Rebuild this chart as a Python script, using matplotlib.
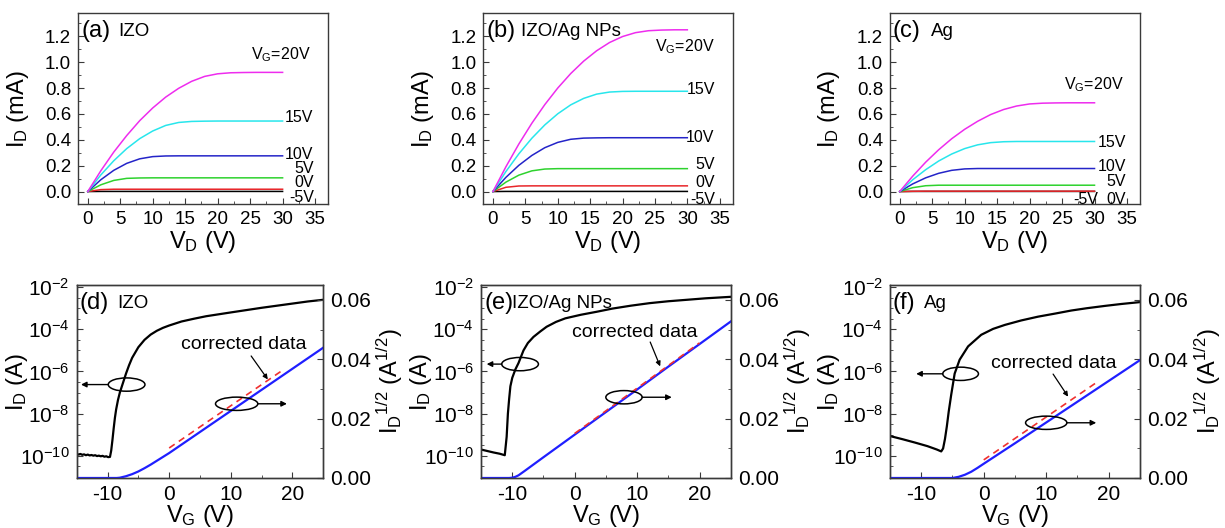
import matplotlib
matplotlib.use("Agg")
import matplotlib.pyplot as plt
import numpy as np
from matplotlib.patches import Ellipse
from matplotlib.ticker import MultipleLocator, FixedLocator, FuncFormatter, NullFormatter

plt.rcParams["font.family"] = ["Liberation Sans", "DejaVu Sans"]
plt.rcParams["mathtext.fontset"] = "custom"
plt.rcParams["mathtext.rm"] = "Liberation Sans"
plt.rcParams["mathtext.it"] = "Liberation Sans:italic"
plt.rcParams["mathtext.default"] = "regular"
plt.rcParams["axes.unicode_minus"] = False

# ---- output curves (I_D in mA vs V_D in V) ----
vd = [0, 2, 4, 6, 8, 10, 12, 14, 16, 18, 20, 22, 24, 26, 28, 30]

izo_vg20 = [0, 0.160, 0.305, 0.433, 0.548, 0.646, 0.730, 0.798, 0.852, 0.890, 0.910, 0.918, 0.920, 0.921, 0.921, 0.921]
izo_vg15 = [0, 0.128, 0.238, 0.332, 0.409, 0.468, 0.511, 0.534, 0.542, 0.544, 0.545, 0.545, 0.545, 0.545, 0.545, 0.545]
izo_vg10 = [0, 0.091, 0.164, 0.218, 0.253, 0.270, 0.275, 0.276, 0.276, 0.276, 0.276, 0.276, 0.276, 0.276, 0.276, 0.276]
izo_vg5 = [0, 0.052, 0.086, 0.102, 0.105, 0.106, 0.106, 0.106, 0.106, 0.106, 0.106, 0.106, 0.106, 0.106, 0.106, 0.106]
izo_vg0 = [0, 0.015, 0.018, 0.018, 0.018, 0.018, 0.018, 0.018, 0.018, 0.018, 0.018, 0.018, 0.018, 0.018, 0.018, 0.018]
izo_vgm5 = [0, 0.001, 0.001, 0.001, 0.001, 0.001, 0.001, 0.001, 0.001, 0.001, 0.001, 0.001, 0.001, 0.001, 0.001, 0.001]

np_vg20 = [0, 0.192, 0.368, 0.528, 0.672, 0.800, 0.912, 1.008, 1.088, 1.152, 1.198, 1.228, 1.243, 1.248, 1.250, 1.250]
np_vg15 = [0, 0.155, 0.292, 0.412, 0.515, 0.601, 0.670, 0.720, 0.753, 0.769, 0.774, 0.775, 0.775, 0.775, 0.775, 0.775]
np_vg10 = [0, 0.110, 0.203, 0.279, 0.339, 0.380, 0.404, 0.413, 0.415, 0.416, 0.416, 0.416, 0.416, 0.416, 0.416, 0.416]
np_vg5 = [0, 0.073, 0.127, 0.160, 0.174, 0.177, 0.177, 0.177, 0.177, 0.177, 0.177, 0.177, 0.177, 0.177, 0.177, 0.177]
np_vg0 = [0, 0.033, 0.043, 0.044, 0.044, 0.044, 0.044, 0.044, 0.044, 0.044, 0.044, 0.044, 0.044, 0.044, 0.044, 0.044]
np_vgm5 = [0, 0.001, 0.001, 0.001, 0.001, 0.001, 0.001, 0.001, 0.001, 0.001, 0.001, 0.001, 0.001, 0.001, 0.001, 0.001]

ag_vg20 = [0, 0.119, 0.227, 0.323, 0.408, 0.481, 0.543, 0.595, 0.634, 0.661, 0.677, 0.683, 0.685, 0.686, 0.686, 0.686]
ag_vg15 = [0, 0.091, 0.169, 0.236, 0.290, 0.332, 0.361, 0.378, 0.385, 0.387, 0.387, 0.387, 0.387, 0.387, 0.387, 0.387]
ag_vg10 = [0, 0.059, 0.106, 0.141, 0.164, 0.175, 0.178, 0.178, 0.178, 0.178, 0.178, 0.178, 0.178, 0.178, 0.178, 0.178]
ag_vg5 = [0, 0.030, 0.045, 0.049, 0.049, 0.049, 0.049, 0.049, 0.049, 0.049, 0.049, 0.049, 0.049, 0.049, 0.049, 0.049]
ag_vg0 = [0, 0.002, 0.003, 0.003, 0.003, 0.003, 0.003, 0.003, 0.003, 0.003, 0.003, 0.003, 0.003, 0.003, 0.003, 0.003]
ag_vgm5 = [0, 0.001, 0.001, 0.001, 0.001, 0.001, 0.001, 0.001, 0.001, 0.001, 0.001, 0.001, 0.001, 0.001, 0.001, 0.001]

vg_labels = ["-5V", "0V", "5V", "10V", "15V", r"V$_G$=20V"]
curve_colors = ["black", "#e8262a", "#2ed22e", "#2424c8", "#28e6ec", "#ee2cee"]

# ---- transfer curves: log10(I_D / A) and sqrt(I_D) in A^1/2 vs V_G ----
izo_vg = [-15.0, -14.7, -14.4, -14.1, -13.8, -13.5, -13.2, -12.9, -12.6, -12.3, -12.0, -11.7,
          -11.4, -11.1, -10.8, -10.5, -10.2, -9.9, -9.6, -9.4, -9.2, -9.0, -8.8, -8.6, -8.3,
          -8.0, -7.5, -7.0, -6.5, -6.0, -5.0, -4.0, -3.0, -2.0, -1.0, 0, 2, 4, 6, 8, 10,
          12.5, 15, 17.5, 20, 22.5, 25]
izo_logid = [-9.90, -9.94, -9.91, -9.95, -9.93, -9.97, -9.94, -9.98, -9.96, -9.99, -9.97, -10.01,
             -9.99, -10.02, -10.00, -10.04, -10.02, -10.06, -10.05, -9.75, -9.25, -8.7, -8.2, -7.8, -7.35,
             -7.0, -6.55, -6.1, -5.7, -5.35, -4.85, -4.5, -4.25, -4.07, -3.93, -3.82, -3.63, -3.5, -3.38,
             -3.29, -3.2, -3.09, -2.98, -2.88, -2.78, -2.68, -2.6]
izo_sq_vg = [-15, -8.5, -8, -7, -6, -5, -4, -3, -2, -1, 0, 5, 10, 15, 20, 25]
izo_sq = [0, 0, 0.0001, 0.0006, 0.0013, 0.0022, 0.0033, 0.0045, 0.0058, 0.0071, 0.0084,
          0.0155, 0.0226, 0.0297, 0.0368, 0.0439]
izo_fit_vg = [0, 18.4]
izo_fit = [0.0101, 0.0363]

np_vg = [-15.0, -14.0, -13.0, -12.0, -11.2, -10.9, -10.7, -10.5, -10.3, -10.0, -9.5, -9.0,
         -8.2, -7.5, -6.6, -5.5, -4.5, -3.0, -1.5, 1.0, 3.5, 6.0, 9.0, 12.0, 15.0, 18.0, 21.0, 25.0]
np_logid = [-9.7, -9.77, -9.84, -9.9, -9.97, -9.1, -8.0, -7.3, -6.7, -6.3, -5.9, -5.6,
            -5.0, -4.65, -4.36, -4.1, -3.88, -3.65, -3.48, -3.31, -3.17, -3.02, -2.88, -2.76,
            -2.67, -2.6, -2.53, -2.46]
np_sq_vg = [-15, -10.5, -10, -9.5, -9, -8, -5, 0, 5, 10, 15, 20, 25]
np_sq = [0, 0, 0.0001, 0.0004, 0.0009, 0.0024, 0.0070, 0.0146, 0.0222, 0.0298, 0.0375, 0.0451, 0.0527]
np_fit_vg = [0, 20]
np_fit = [0.0150, 0.0455]

ag_vg = [-15.0, -13.0, -11.0, -9.0, -7.5, -6.8, -6.5, -6.2, -5.9, -5.6, -5.2, -4.65, -3.85,
         -2.5, -0.4, 1.5, 3.4, 6.0, 8.7, 11.5, 14.0, 16.5, 19.4, 22.0, 25.0]
ag_logid = [-9.06, -9.21, -9.37, -9.54, -9.7, -9.79, -9.65, -9.2, -8.6, -7.9, -7.1, -6.1, -5.44,
            -4.81, -4.26, -3.98, -3.79, -3.58, -3.4, -3.25, -3.11, -3.0, -2.89, -2.8, -2.71]
ag_sq_vg = [-15, -5, -4, -3, -2, -1, 0, 5, 10, 15, 20, 25]
ag_sq = [0, 0, 0.0004, 0.0011, 0.0021, 0.0034, 0.0048, 0.0117, 0.0187, 0.0257, 0.0327, 0.0397]
ag_fit_vg = [0, 18]
ag_fit = [0.0061, 0.0321]

FIG_W, FIG_H = 1225, 528
fig = plt.figure(figsize=(FIG_W / 100, FIG_H / 100), dpi=100)

SPINE = "#3a3a3a"


def style_axes(ax):
    for s in ax.spines.values():
        s.set_color(SPINE)
        s.set_linewidth(1.0)


def output_panel(rect, curves, tag, name, name_x, label_pos):
    ax = fig.add_axes(rect)
    style_axes(ax)
    for y, c in zip(curves, curve_colors):
        ax.plot(vd, y, color=c, lw=1.1)
    ax.set_xlim(-1.5, 37)
    ax.set_ylim(-0.1, 1.38)
    ax.xaxis.set_major_locator(MultipleLocator(5))
    ax.xaxis.set_minor_locator(MultipleLocator(2.5))
    ax.yaxis.set_major_locator(FixedLocator([0, 0.2, 0.4, 0.6, 0.8, 1.0, 1.2]))
    ax.yaxis.set_minor_locator(MultipleLocator(0.1))
    ax.yaxis.set_major_formatter(FuncFormatter(lambda v, p: "%.1f" % v))
    ax.tick_params(which="both", direction="in", top=False, right=False, color=SPINE)
    ax.tick_params(which="major", length=4.5, labelsize=13.5, pad=5)
    ax.tick_params(which="minor", length=2.5)
    ax.set_xlabel(r"V$_D$ (V)", fontsize=17)
    ax.set_ylabel(r"I$_D$ (mA)", fontsize=17)
    ax.xaxis.set_label_coords(0.5, -0.13)
    ax.yaxis.set_label_coords(-0.19, 0.5)
    for lab, (x, y) in zip(vg_labels, label_pos):
        ax.text(x, y, lab, fontsize=11.5, ha="left", va="center")
    ax.text(0.012, 0.905, tag, transform=ax.transAxes, fontsize=17, va="center")
    ax.text(name_x, 0.905, name, transform=ax.transAxes, fontsize=13.5, va="center")
    return ax


def oval(ax, x, y, w_px, h_px):
    fx, fy = ax.transAxes.inverted().transform(ax.transData.transform((x, y)))
    bb = ax.get_window_extent()
    ax.add_patch(Ellipse((fx, fy), w_px / bb.width, h_px / bb.height, transform=ax.transAxes,
                         fill=False, lw=1.1, color="black", zorder=5))


def arrow(ax, x0, x1, y):
    ax.annotate("", xy=(x1, y), xytext=(x0, y),
                arrowprops=dict(arrowstyle="-|>", lw=1.0, color="black", mutation_scale=8,
                                shrinkA=0, shrinkB=0))


def transfer_panel(rect, vg, logid, sq_vg, sq, fit_vg, fit, tag, name, name_x,
                   left_oval, right_oval, text_xy, text_arrow):
    ax = fig.add_axes(rect)
    ax2 = ax.twinx()
    style_axes(ax)
    style_axes(ax2)
    ax.plot(vg, 10 ** np.array(logid), color="black", lw=1.6)
    ax.set_yscale("log")
    ax.set_xlim(-15, 25)
    ax.set_ylim(10 ** -11.05, 10 ** -1.9)
    ax.xaxis.set_major_locator(MultipleLocator(10))
    ax.xaxis.set_minor_locator(MultipleLocator(5))
    ax.yaxis.set_major_locator(FixedLocator([1e-10, 1e-8, 1e-6, 1e-4, 1e-2]))
    ax.yaxis.set_minor_locator(FixedLocator([10 ** (k / 2) for k in range(-22, -3) if k % 4 != 0]))
    ax.yaxis.set_major_formatter(FuncFormatter(lambda v, p: r"10$^{%d}$" % round(np.log10(v))))
    ax.yaxis.set_minor_formatter(NullFormatter())
    ax.tick_params(which="both", direction="in", top=False, right=False, color=SPINE)
    ax.tick_params(which="major", length=4.5, labelsize=15, pad=5)
    ax.tick_params(which="minor", length=2.5)

    ax2.plot(sq_vg, sq, color="#1f1fff", lw=1.6)
    ax2.plot(fit_vg, fit, color="#f03030", lw=1.2, ls=(0, (4, 3)), zorder=4)
    ax2.set_ylim(0, 0.065)
    ax2.yaxis.set_major_locator(MultipleLocator(0.02))
    ax2.yaxis.set_minor_locator(MultipleLocator(0.01))
    ax2.yaxis.set_major_formatter(FuncFormatter(lambda v, p: "%.2f" % v))
    ax2.tick_params(which="both", direction="in", color=SPINE)
    ax2.tick_params(which="major", length=4.5, labelsize=15, pad=5)
    ax2.tick_params(which="minor", length=2.5)

    ax.set_xlabel(r"V$_G$ (V)", fontsize=17)
    ax.set_ylabel(r"I$_D$ (A)", fontsize=17)
    ax2.set_ylabel(r"I$_D{}^{1/2}$ (A$^{1/2}$)", fontsize=17)
    ax.xaxis.set_label_coords(0.5, -0.128)
    ax.yaxis.set_label_coords(-0.19, 0.5)
    ax2.yaxis.set_label_coords(1.21, 0.5)

    ax.text(0.012, 0.905, tag, transform=ax.transAxes, fontsize=17, va="center")
    ax.text(name_x, 0.905, name, transform=ax.transAxes, fontsize=13.5, va="center")

    lx, ly, lw_, ltip = left_oval
    oval(ax, lx, 10 ** ly, lw_, 13.3)
    bb = ax.get_window_extent()
    dx = (lw_ / 2) / bb.width * 40
    arrow(ax, lx - dx, ltip, 10 ** ly)

    rx, ry, rw_, rtip = right_oval
    oval(ax2, rx, ry, rw_, 13.3)
    dx = (rw_ / 2) / bb.width * 40
    arrow(ax2, rx + dx, rtip, ry)

    ax2.text(text_xy[0], text_xy[1], "corrected data", fontsize=14, ha="left", va="center")
    ax2.annotate("", xy=text_arrow[1], xytext=text_arrow[0],
                 arrowprops=dict(arrowstyle="-|>", lw=0.9, color="black", mutation_scale=7,
                                 shrinkA=0, shrinkB=0))
    return ax


top_b, top_h = 0.6127, 0.3627
output_panel([0.0637, top_b, 0.2041, top_h],
             [izo_vgm5, izo_vg0, izo_vg5, izo_vg10, izo_vg15, izo_vg20], "(a)", "IZO", 0.16,
             [(31.0, -0.045), (31.8, 0.072), (31.8, 0.18), (30.3, 0.29), (30.3, 0.57), (25.2, 1.06)])
output_panel([0.3945, top_b, 0.2036, top_h],
             [np_vgm5, np_vg0, np_vg5, np_vg10, np_vg15, np_vg20], "(b)", "IZO/Ag NPs", 0.15,
             [(30.4, -0.06), (31.3, 0.073), (31.2, 0.21), (29.8, 0.42), (29.9, 0.79), (25.0, 1.12)])
output_panel([0.7265, top_b, 0.2041, top_h],
             [ag_vgm5, ag_vg0, ag_vg5, ag_vg10, ag_vg15, ag_vg20], "(c)", "Ag", 0.163,
             [(26.7, -0.06), (31.9, -0.06), (31.9, 0.08), (30.5, 0.196), (30.5, 0.38), (25.3, 0.83)])

bot_b, bot_h = 0.0947, 0.3655
transfer_panel([0.0626, bot_b, 0.2013, bot_h], izo_vg, izo_logid, izo_sq_vg, izo_sq,
               izo_fit_vg, izo_fit, "(d)", "IZO", 0.163,
               (-6.9, -6.62, 36.7, -14.3), (10.95, 0.025, 42.3, 19.1),
               (1.9, 0.0448), ((13.3, 0.0411), (16.0, 0.0332)))
transfer_panel([0.3927, bot_b, 0.2038, bot_h], np_vg, np_logid, np_sq_vg, np_sq,
               np_fit_vg, np_fit, "(e)", "IZO/Ag NPs", 0.122,
               (-8.75, -5.65, 36.7, -14.1), (7.9, 0.0272, 36.3, 15.55),
               (-0.5, 0.0489), ((12.1, 0.0458), (13.7, 0.0376)))
transfer_panel([0.7265, bot_b, 0.2041, bot_h], ag_vg, ag_logid, ag_sq_vg, ag_sq,
               ag_fit_vg, ag_fit, "(f)", "Ag", 0.138,
               (-3.7, -6.11, 35.7, -10.8), (10.0, 0.0186, 41.3, 18.0),
               (1.2, 0.0384), ((11.1, 0.035), (13.5, 0.0274)))

fig.savefig("out.png", dpi=100)
